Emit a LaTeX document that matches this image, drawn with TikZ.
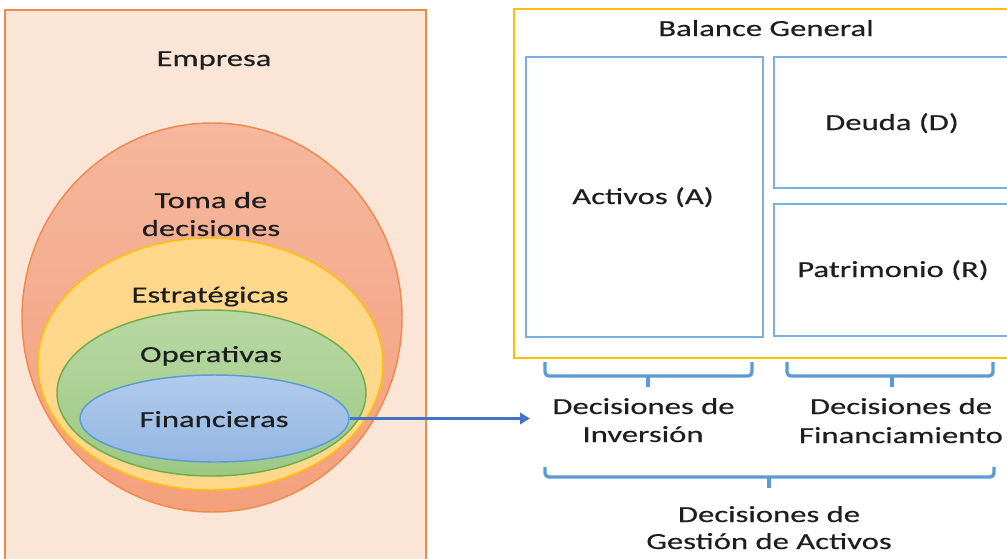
\documentclass[tikz,border=0pt]{standalone}
\usepackage{fontspec}
\setmainfont{Carlito}[FakeStretch=1.42,FakeBold=0.35]
\usetikzlibrary{shapes.geometric,arrows.meta}
\definecolor{txt}{HTML}{1E1E1E}
\definecolor{empfill}{HTML}{FBE5D6}
\definecolor{orangeline}{HTML}{F08A4B}
\definecolor{ortop}{HTML}{F5B79E}
\definecolor{orbot}{HTML}{F4A07C}
\definecolor{yelfill}{HTML}{FFD88C}
\definecolor{yelline}{HTML}{FFC000}
\definecolor{grtop}{HTML}{B8D8A4}
\definecolor{grbot}{HTML}{9CC884}
\definecolor{grline}{HTML}{70AD47}
\definecolor{bltop}{HTML}{B0CBEB}
\definecolor{blbot}{HTML}{93B6E2}
\definecolor{blline}{HTML}{5B9BD5}
\definecolor{boxline}{HTML}{7AAFE2}
\definecolor{bracecol}{HTML}{5B9BD5}
\definecolor{arrcol}{HTML}{4472C4}
\begin{document}
\begin{tikzpicture}[x=0.75pt,y=-0.75pt,
  lbl/.style={anchor=base, inner sep=0pt, text=txt, font=\fontsize{17.25pt}{21pt}\selectfont},
  ell/.style={ellipse, inner sep=0pt, line width=1.1pt},
  boxr/.style={rectangle, inner sep=0pt, draw=boxline, line width=1.5pt, fill=white},
  bracestyle/.style={draw=bracecol, line width=2.5pt, rounded corners=3pt},
  arr/.style={draw=arrcol, line width=2.4pt, -{Triangle[length=7.5pt,width=8.5pt]}}]
\useasboundingbox (0,0) rectangle (1007,558);
% left panel
\node[rectangle, draw=orangeline, fill=empfill, line width=1.1pt, inner sep=0pt,
      minimum width=315.75pt, minimum height=420pt] (empresa) at (215.5,290) {};
\node[ell, draw=orangeline, top color=ortop, bottom color=orbot,
      minimum width=285pt, minimum height=291.75pt] (toma) at (212,317.5) {};
\node[ell, draw=yelline, fill=yelfill,
      minimum width=258.75pt, minimum height=189pt] (estr) at (210.5,364) {};
\node[ell, draw=grline, top color=grtop, bottom color=grbot,
      minimum width=231.75pt, minimum height=124.5pt] (oper) at (211.5,393) {};
\node[ell, draw=blline, top color=bltop, bottom color=blbot,
      minimum width=201.75pt, minimum height=65.25pt] (fin) at (214.5,418.5) {};
\node[lbl] (tEmp) at (214,66) {Empresa};
\node[lbl] (tToma1) at (211,208) {Toma de};
\node[lbl] (tToma2) at (211,236) {decisiones};
\node[lbl] (tEstr) at (210,302.5) {Estratégicas};
\node[lbl] (tOper) at (211,362) {Operativas};
\node[lbl] (tFin) at (214,427) {Financieras};
% right panel
\node[rectangle, draw=yelline, fill=white, line width=1.1pt, inner sep=0pt,
      minimum width=375.75pt, minimum height=261.75pt] (balance) at (764.5,183.5) {};
\node[boxr, minimum width=177.75pt, minimum height=210pt] (activos) at (644.5,197) {};
\node[boxr, minimum width=180.75pt, minimum height=98.25pt] (deuda) at (894.5,122.5) {};
\node[boxr, minimum width=180.75pt, minimum height=99pt] (patr) at (894.5,270) {};
\node[lbl] (tBal) at (766,36) {Balance General};
\node[lbl] (tAct) at (643,204) {Activos (A)};
\node[lbl] (tDeu) at (892,130) {Deuda (D)};
\node[lbl] (tPat) at (893,277) {Patrimonio (R)};
% braces
\draw[bracestyle] (545,362) -- (545,376) -- (752,376) -- (752,362);
\draw[bracestyle] (648,376) -- (648,387);
\draw[bracestyle] (787,362) -- (787,376) -- (993,376) -- (993,362);
\draw[bracestyle] (892,376) -- (892,387);
\draw[bracestyle] (545,467) -- (545,477) -- (994,477) -- (994,467);
\draw[bracestyle] (769,477) -- (769,488);
% brace labels
\node[lbl] (inv1) at (643.5,414) {Decisiones de};
\node[lbl] (inv2) at (643,442) {Inversión};
\node[lbl] (fin1) at (901,414) {Decisiones de};
\node[lbl] (fin2) at (901,443) {Financiamiento};
\node[lbl] (ges1) at (769,522) {Decisiones de};
\node[lbl] (ges2) at (769,549) {Gestión de Activos};
% arrow
\coordinate (arrend) at (530,418.5);
\draw[arr] (fin.east) -- (arrend);
\end{tikzpicture}
\end{document}
